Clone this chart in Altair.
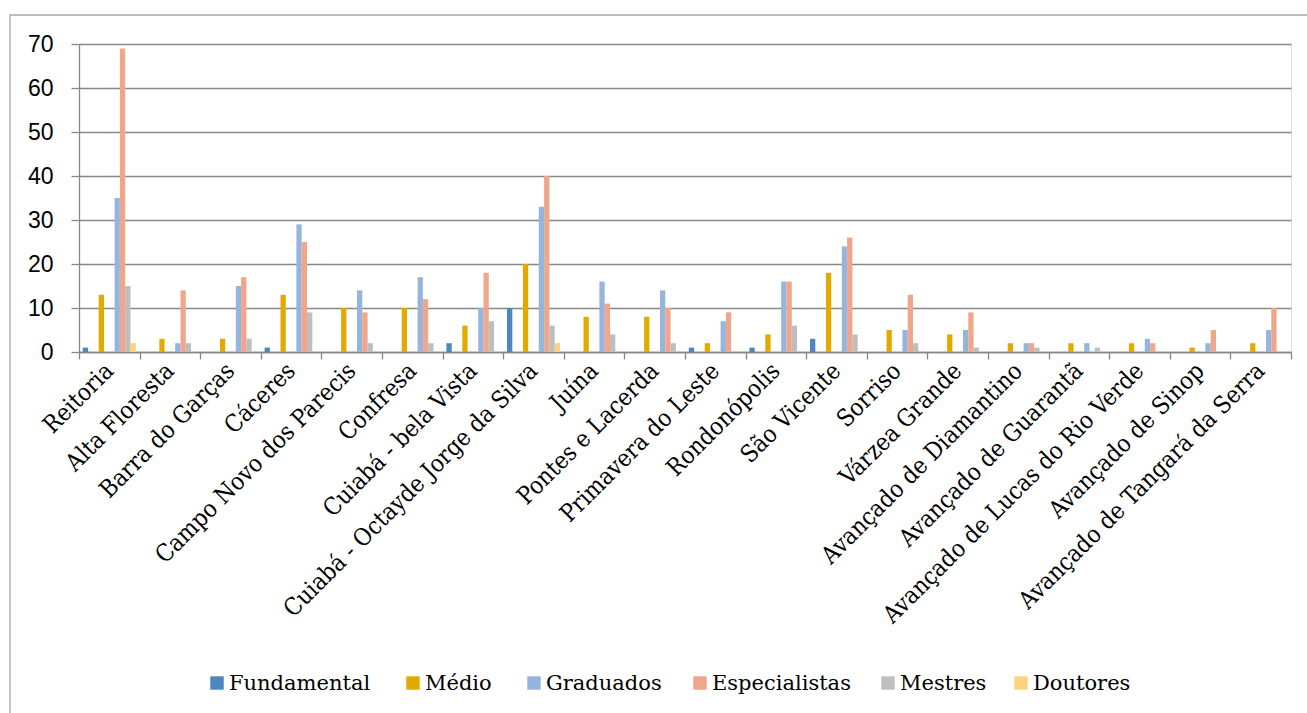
import altair as alt
import pandas as pd

categories = [
    "Reitoria", "Alta Floresta", "Barra do Garças", "Cáceres",
    "Campo Novo dos Parecis", "Confresa", "Cuiabá - bela Vista",
    "Cuiabá - Octayde Jorge da Silva", "Juína", "Pontes e Lacerda",
    "Primavera do Leste", "Rondonópolis", "São Vicente", "Sorriso",
    "Várzea Grande", "Avançado de Diamantino", "Avançado de Guarantã",
    "Avançado de Lucas do Rio Verde", "Avançado de Sinop",
    "Avançado de Tangará da Serra",
]
series_names = ["Fundamental", "Médio", "Graduados", "Especialistas", "Mestres", "Doutores"]
series_colors = ["#4F86BD", "#E2AA00", "#95B5DD", "#F0A68A", "#BEBEBE", "#FFD27F"]

fundamental = [1, 0, 0, 1, 0, 0, 2, 10, 0, 0, 1, 1, 3, 0, 0, 0, 0, 0, 0, 0]
medio = [13, 3, 3, 13, 10, 10, 6, 20, 8, 8, 2, 4, 18, 5, 4, 2, 2, 2, 1, 2]
graduados = [35, 2, 15, 29, 14, 17, 10, 33, 16, 14, 7, 16, 24, 5, 5, 2, 2, 3, 2, 5]
especialistas = [69, 14, 17, 25, 9, 12, 18, 40, 11, 10, 9, 16, 26, 13, 9, 2, 0, 2, 5, 10]
mestres = [15, 2, 3, 9, 2, 2, 7, 6, 4, 2, 0, 6, 4, 2, 1, 1, 1, 0, 0, 0]
doutores = [2, 0, 0, 0, 0, 0, 0, 2, 0, 0, 0, 0, 0, 0, 0, 0, 0, 0, 0, 0]

# slot layout within each category (Excel chart had empty series slots)
slots = ["Fundamental", "_1", "_2", "Médio", "_3", "_4",
         "Graduados", "Especialistas", "Mestres", "Doutores"]

all_series = [fundamental, medio, graduados, especialistas, mestres, doutores]
rows = []
for name, vals in zip(series_names, all_series):
    for cat, v in zip(categories, vals):
        if v > 0:
            rows.append({"campus": cat, "serie": name, "valor": v})
df = pd.DataFrame(rows)

W, H = 1212, 308
PL, PT = 79, 44
SERIF = "DejaVu Serif Condensed, DejaVu Serif, serif"
LEGEND_FONT = "DejaVu Serif, serif"

bars = alt.Chart(df).mark_bar(clip=False).encode(
    x=alt.X("campus:N", sort=categories,
            scale=alt.Scale(paddingInner=0, paddingOuter=0),
            axis=alt.Axis(title=None, tickBand="extent", labelAngle=-45,
                          labelAlign="right", labelBaseline="middle",
                          labelFont=SERIF, labelFontSize=24,
                          labelColor="#000000", tickSize=7, tickColor="#888888",
                          domainColor="#888888", domainWidth=1.3, tickWidth=1.3,
                          labelPadding=8, grid=False, labelLimit=600,
                          labelOverlap=False)),
    xOffset=alt.XOffset("serie:N", scale=alt.Scale(domain=slots, paddingInner=0,
                                                    paddingOuter=0.72)),
    y=alt.Y("valor:Q", scale=alt.Scale(domain=[0, 70], nice=False),
            axis=alt.Axis(title=None, values=[0, 10, 20, 30, 40, 50, 60, 70],
                          labelFont="Liberation Sans", labelFontSize=23,
                          labelColor="#000000", tickSize=8, tickColor="#888888",
                          tickWidth=1.3, gridColor="#888888", gridWidth=1.3,
                          domainColor="#888888", domainWidth=1.3,
                          labelPadding=18)),
    color=alt.Color("serie:N",
                    scale=alt.Scale(domain=series_names, range=series_colors),
                    legend=None),
)

one = pd.DataFrame({"k": [0]})
border = alt.Chart(one).mark_rect(fill=None, stroke="#A6A6A6", strokeWidth=1.3,
                                  clip=False).encode(
    x=alt.value(10 - PL), x2=alt.value(1320 - PL),
    y=alt.value(15 - PT), y2=alt.value(730 - PT),
)

# hand-drawn legend (layout positions of the legend entries, in pixels)
legend_left = [210, 406, 527, 693, 881, 1014]
legend_y = 683
legend_layers = []
for name, color, lx in zip(series_names, series_colors, legend_left):
    sq = alt.Chart(one).mark_square(size=180, opacity=1, clip=False).encode(
        x=alt.value(lx + 7 - PL), y=alt.value(legend_y - PT),
        color=alt.value(color))
    tx = alt.Chart(one).mark_text(text=name, align="left", baseline="middle",
                                  font=LEGEND_FONT, fontSize=21, color="#000000",
                                  clip=False).encode(
        x=alt.value(lx + 19 - PL), y=alt.value(legend_y - PT + 1))
    legend_layers += [sq, tx]

chart = alt.layer(border, bars, *legend_layers).properties(
    width=W, height=H,
    autosize=alt.AutoSizeParams(type="none"),
    padding={"left": PL, "top": PT, "right": 1307 - PL - W, "bottom": 713 - PT - H},
).configure_view(stroke=None).configure(background="#FFFFFF")

chart.save("out.html", embed_options={"renderer": "svg", "actions": False})
